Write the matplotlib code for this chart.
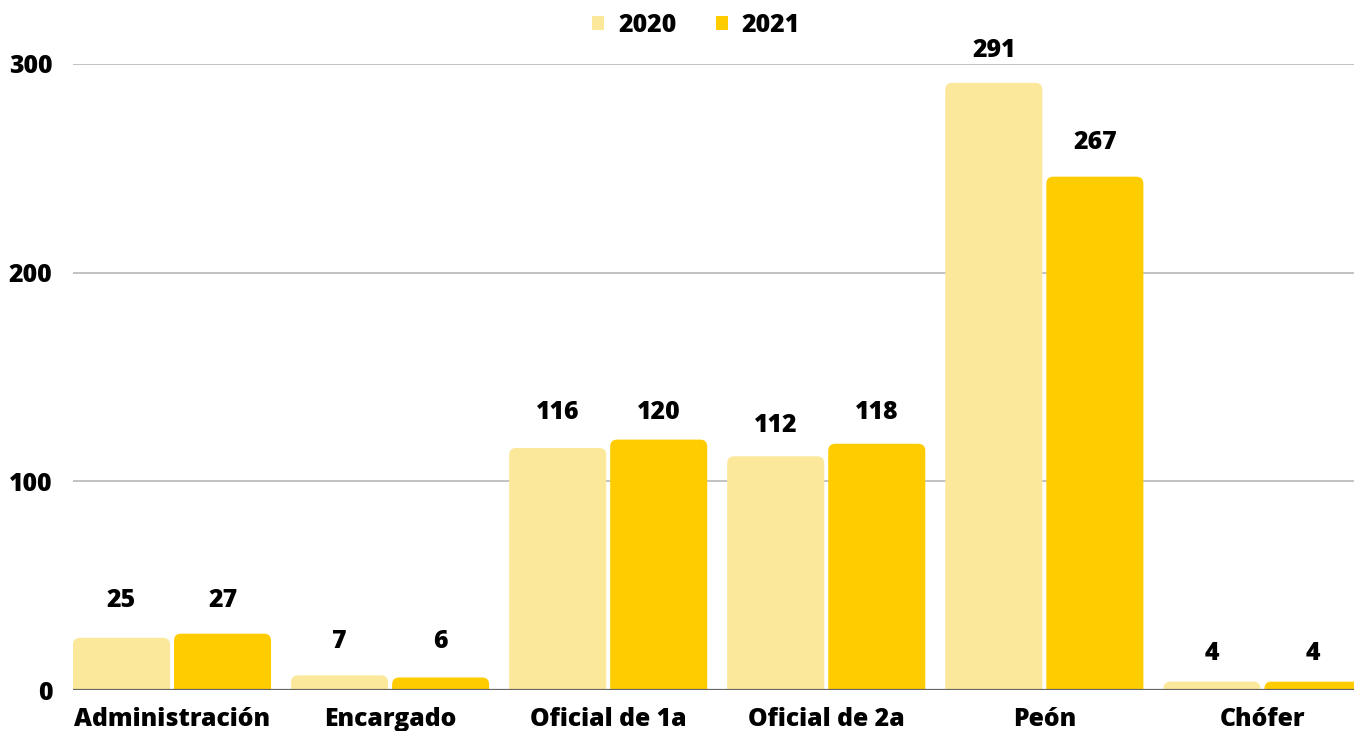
import matplotlib
matplotlib.use('Agg')
import matplotlib.pyplot as plt
import numpy as np
from matplotlib.patches import FancyBboxPatch, Patch

plt.rcParams['font.family'] = ['Open Sans', 'DejaVu Sans']
plt.rcParams['font.weight'] = 'heavy'

# Data
categories = ['Administración', 'Encargado', 'Oficial de 1a', 'Oficial de 2a', 'Peón', 'Chófer']
years = ['2020', '2021']
values_2020 = [25, 7, 116, 112, 291, 4]
values_2021 = [27, 6, 120, 118, 246, 4]
labels_2020 = ['25', '7', '116', '112', '291', '4']
labels_2021 = ['27', '6', '120', '118', '267', '4']

# label gap above each bar (pixels), as placed in the original
gap_2020 = [37, 34, 35, 31, 32, 28]
gap_2021 = [33, 36, 27, 31, 34, 28]

color_2020 = '#fce89b'
color_2021 = '#ffcc00'
fs = 17.8

W, H = 1354, 731
fig = plt.figure(figsize=(W / 100, H / 100), dpi=100)
ax = fig.add_axes([73 / W, 1 - 690 / H, 1 - 73 / W, (690 - 64) / H])

x = np.arange(len(categories))
bw = 0.445
off = 0.2317

ax.set_xlim(-0.454, 5.42)
ax.set_ylim(0, 300)

# px per data unit
px_x = (W - 73) / (5.42 + 0.454)
px_y = (690 - 64) / 300.0
aspect = px_x / px_y
r = 7 / px_x  # corner radius in x units


def rounded_bars(xpos, vals, labels, gaps, color):
    bars = ax.bar(xpos, vals, width=bw, color=color)
    for b, lab, g in zip(bars, labels, gaps):
        b.set_visible(False)
        x0, w, h = b.get_x(), b.get_width(), b.get_height()
        ext = r * aspect  # extend below baseline so bottom stays square
        patch = FancyBboxPatch((x0, -ext), w, h + ext,
                               boxstyle=f"round,pad=0,rounding_size={r}",
                               mutation_aspect=aspect,
                               facecolor=color, edgecolor='none', zorder=2)
        ax.add_patch(patch)
        ax.annotate(lab, (x0 + w / 2, h), xytext=(0, g), textcoords='offset pixels',
                    ha='center', va='center', fontsize=fs, fontweight='heavy',
                    color='black', annotation_clip=False)


rounded_bars(x - off, values_2020, labels_2020, gap_2020, color_2020)
rounded_bars(x + off, values_2021, labels_2021, gap_2021, color_2021)

# grid and baseline
ax.set_yticks([0, 100, 200, 300])
for yv in [100, 200, 300]:
    ax.axhline(yv, color='#bdbdbd', lw=1.3, zorder=1)
ax.axhline(0, color='#666666', lw=1.6, zorder=3)

for s in ax.spines.values():
    s.set_visible(False)
ax.tick_params(axis='both', length=0)
ax.tick_params(axis='y', pad=15, labelsize=fs)
ax.tick_params(axis='x', pad=12, labelsize=fs)
ax.set_xticks(x)
ax.set_xticklabels(categories, fontweight='heavy')
for t in ax.get_yticklabels():
    t.set_fontweight('heavy')

handles = [Patch(facecolor=color_2020, edgecolor='none'),
           Patch(facecolor=color_2021, edgecolor='none')]
fig.legend(handles, years, loc='center', bbox_to_anchor=(696 / W, 1 - 25 / H),
           ncol=2, frameon=False, handlelength=0.5, handleheight=0.5,
           handletextpad=0.55, columnspacing=1.6, prop={'weight': 'heavy', 'size': fs})

fig.savefig('out.png', dpi=100)
